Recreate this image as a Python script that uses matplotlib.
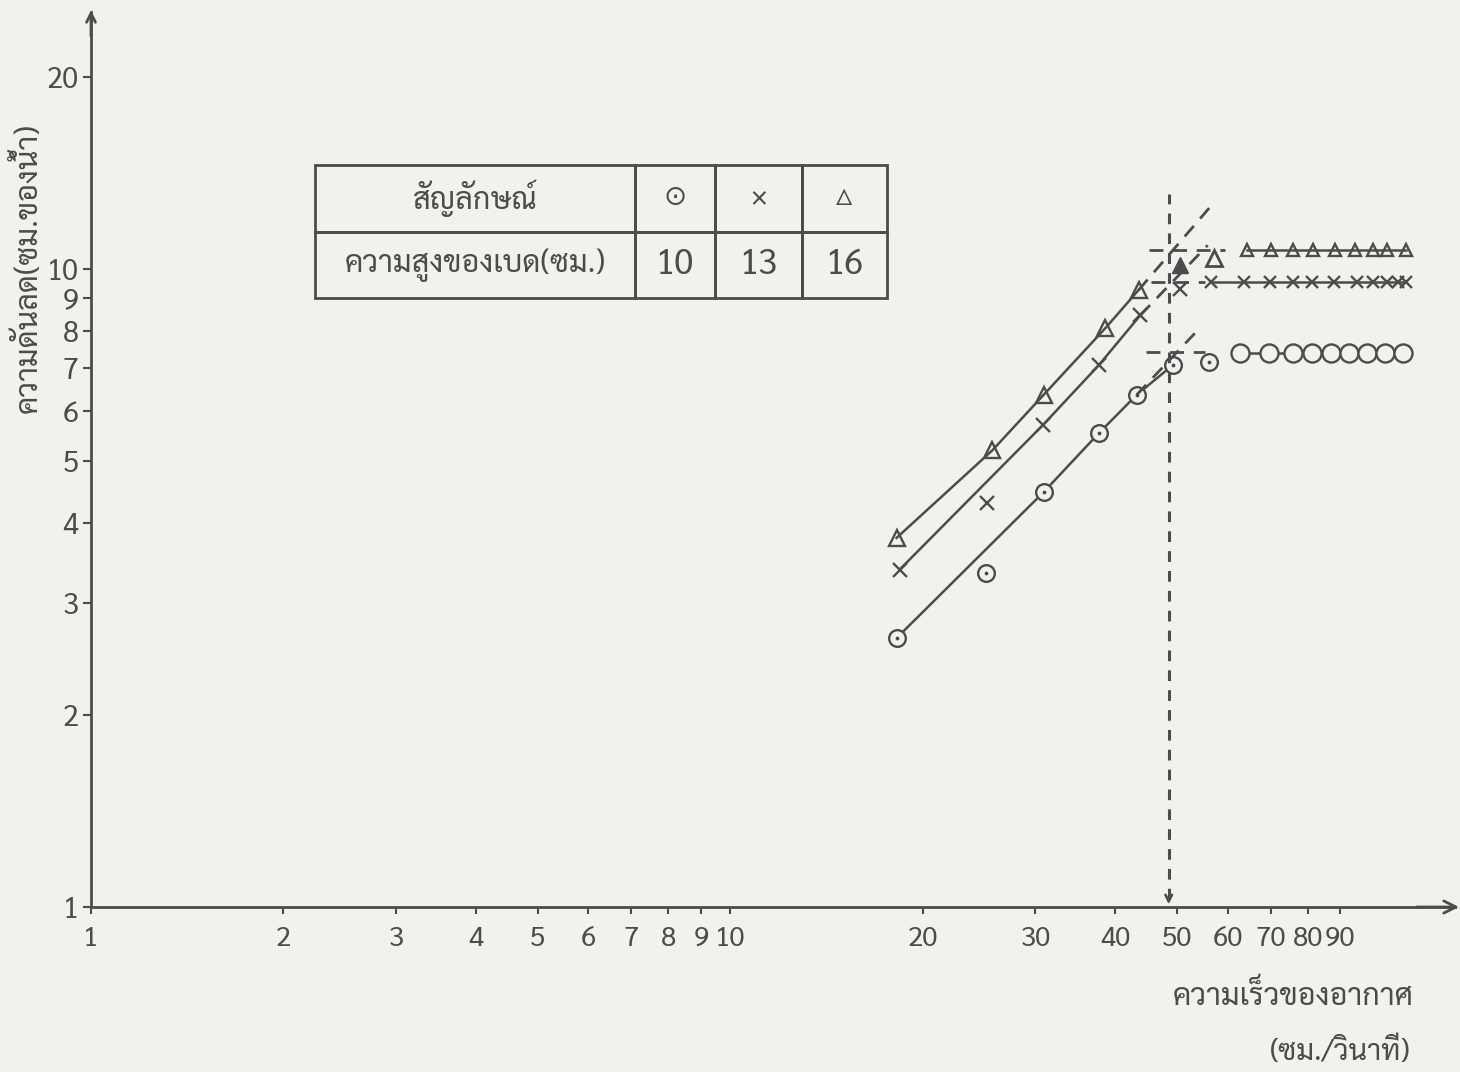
import matplotlib
matplotlib.use("Agg")
import matplotlib.pyplot as plt
from matplotlib import font_manager
from matplotlib.ft2font import FT2Font

# ---------------- data ----------------
x_ticks = [1, 2, 3, 4, 5, 6, 7, 8, 9, 10, 20, 30, 40, 50, 60, 70, 80, 90]
y_ticks = [1, 2, 3, 4, 5, 6, 7, 8, 9, 10, 20]

# bed height 16 cm (triangles)
v_tri = [18.2, 25.7, 30.9, 38.6, 43.5]
dp_tri = [3.79, 5.20, 6.35, 8.08, 9.27]
v_tri_mid = [50.6, 57.0]
dp_tri_mid = [10.15, 10.4]
v_tri_flat = [64.4, 70.0, 76.0, 81.5, 88.3, 94.7, 101.1, 106.5, 114.0]
dp_tri_flat = [10.7, 10.7, 10.7, 10.7, 10.7, 10.7, 10.7, 10.7, 10.7]

# bed height 13 cm (crosses)
v_x = [18.4, 30.8, 37.7, 43.8]
dp_x = [3.38, 5.69, 7.07, 8.47]
v_x_off = [25.2, 50.6]
dp_x_off = [4.30, 9.3]
v_x_flat = [56.4, 63.5, 69.8, 76.0, 81.2, 87.8, 95.4, 101.1, 106.3, 110.6, 114.2]
dp_x_flat = [9.54, 9.54, 9.54, 9.54, 9.54, 9.54, 9.54, 9.54, 9.54, 9.54, 9.54]

# bed height 10 cm (circles)
v_o = [18.2, 30.9, 37.7, 43.2, 49.2]
dp_o = [2.64, 4.47, 5.53, 6.35, 7.07]
v_o_off = [25.1, 56.0]
dp_o_off = [3.34, 7.15]
v_o_flat = [62.6, 69.5, 75.8, 81.4, 86.9, 92.7, 98.9, 105.6, 112.6]
dp_o_flat = [7.38, 7.38, 7.38, 7.38, 7.38, 7.38, 7.38, 7.38, 7.38]

# construction lines
v_fluid = 48.5
ext_tri = ([43.5, 57.4], [9.27, 12.8])
ext_x = ([43.8, 55.8], [8.47, 10.9])
ext_o = ([43.2, 54.4], [6.35, 8.11])
h_tri = ([45.1, 59.5], [10.7, 10.7])
h_x = ([45.5, 55.3], [9.54, 9.54])
h_o = ([44.7, 55.3], [7.42, 7.42])

table_rows = [["สัญลักษณ์", "⊙", "×", "△"],
              ["ความสูงของเบด(ซม.)", "10", "13", "16"]]
y_label = "ความดันลด(ซม.ของน้ำ)"
x_label1 = "ความเร็วของอากาศ"
x_label2 = "(ซม./วินาที)"

# ---------------- font ----------------
pref = ["Sarabun", "Noto Sans Thai", "Noto Sans Thai Looped", "Athiti", "Bai Jamjuree", "Chakra Petch"]
thai = {}
for path in font_manager.findSystemFonts():
    try:
        ft = FT2Font(path)
        cm = ft.get_charmap()
        if 0x0E01 in cm and 0x0E4C in cm and ft.style_name in ("Regular", "Light"):
            thai.setdefault(ft.family_name, []).append((ft.style_name, path))
    except Exception:
        pass
chosen = None
for p in pref:
    if p in thai:
        chosen = p
        break
if chosen is None and thai:
    chosen = sorted(thai)[0]
if chosen:
    for style, path in thai[chosen]:
        try:
            font_manager.fontManager.addfont(path)
        except Exception:
            pass
fam = [chosen, "DejaVu Sans"] if chosen else ["DejaVu Sans"]
plt.rcParams["font.family"] = fam

ink = "#4c4c4c"
bg = "#f1f1ed"

fig = plt.figure(figsize=(14.6, 10.72), dpi=100, facecolor=bg)
ax = fig.add_axes([91 / 1460, 1 - 907 / 1072, 1364 / 1460, 895 / 1072])
ax.set_facecolor(bg)
ax.set_xscale("log")
ax.set_yscale("log")
ax.set_xlim(1, 136)
ax.set_ylim(1, 25.3)

for s in ["top", "right"]:
    ax.spines[s].set_visible(False)
for s in ["left", "bottom"]:
    ax.spines[s].set_color(ink)
    ax.spines[s].set_linewidth(2.0)

ax.xaxis.set_minor_locator(matplotlib.ticker.NullLocator())
ax.yaxis.set_minor_locator(matplotlib.ticker.NullLocator())
ax.set_xticks(x_ticks)
ax.set_xticklabels([str(t) for t in x_ticks])
ax.set_yticks(y_ticks)
ax.set_yticklabels([str(t) for t in y_ticks])
ax.tick_params(axis="x", direction="out", length=5, width=1.5, color=ink,
               labelsize=20, labelcolor=ink, pad=8)
ax.tick_params(axis="y", direction="out", length=6, width=1.5, color=ink,
               labelsize=21, labelcolor=ink, pad=3)

# axis arrows
ax.annotate("", xy=(1.005, 0), xytext=(0.97, 0), xycoords="axes fraction",
            arrowprops=dict(arrowstyle="->", color=ink, lw=2, mutation_scale=22))
ax.annotate("", xy=(0, 1.005), xytext=(0, 0.97), xycoords="axes fraction",
            arrowprops=dict(arrowstyle="->", color=ink, lw=2, mutation_scale=16))

lw = 1.8
ms = 12
# triangles
ax.plot(v_tri, dp_tri, "-", color=ink, lw=lw, marker="^", ms=ms, mfc="none", mec=ink, mew=1.7)
ax.plot(v_tri_mid[:1], dp_tri_mid[:1], "^", ms=ms, color=ink)
ax.plot(v_tri_mid[1:], dp_tri_mid[1:], "^", ms=ms, mfc="none", mec=ink, mew=2)
ax.plot(v_tri_flat, dp_tri_flat, "-", color=ink, lw=lw, marker="^", ms=9, mfc="none", mec=ink, mew=1.7)
# crosses
ax.plot(v_x, dp_x, "-", color=ink, lw=lw, marker="x", ms=10, mec=ink, mew=1.7)
ax.plot(v_x_off, dp_x_off, "x", ms=10, mec=ink, mew=1.7)
ax.plot(v_x_flat, dp_x_flat, "-", color=ink, lw=lw, marker="x", ms=8, mec=ink, mew=1.7)
# circles
ax.plot(v_o, dp_o, "-", color=ink, lw=lw, marker="o", ms=ms, mfc=bg, mec=ink, mew=1.7)
ax.plot(v_o_off, dp_o_off, "o", ms=ms, mfc="none", mec=ink, mew=1.7)
ax.plot(v_o_flat, dp_o_flat, "-", color=ink, lw=lw, marker="o", ms=13, mfc=bg, mec=ink, mew=1.7)
for vv, dd in [(v_o, dp_o), (v_o_off, dp_o_off)]:
    ax.plot(vv, dd, ".", ms=3.5, color=ink)

# construction (dashed) lines
dash = (0, (5, 3.5))
for xs, ys in [ext_tri, ext_x, ext_o, h_tri, h_x, h_o]:
    ax.plot(xs, ys, color=ink, lw=2, linestyle=dash)
ax.plot([v_fluid, v_fluid], [1.03, 13.1], color=ink, lw=2.2, linestyle=(0, (3.5, 3)))
ax.annotate("", xy=(v_fluid, 1.0), xytext=(v_fluid, 1.05),
            arrowprops=dict(arrowstyle="->", color=ink, lw=1.8, mutation_scale=12))

# table (legend)
tab = ax.table(cellText=table_rows, cellLoc="center",
               colWidths=[0.559, 0.140, 0.152, 0.149],
               bbox=[0.1642, 0.680, 0.4194, 0.149])
tab.auto_set_font_size(False)
for (r, c), cell in tab.get_celld().items():
    cell.set_facecolor("none")
    cell.set_edgecolor(ink)
    cell.set_linewidth(2)
    t = cell.get_text()
    t.set_color(ink)
    t.set_fontfamily(fam)
    t.set_fontsize(22 if c == 0 else 25)
    if r == 0 and c > 0:
        t.set_fontsize(20)

fig.text(28 / 1460, 1 - 268 / 1072, y_label, rotation=90, ha="center", va="center",
         fontsize=22, color=ink)
fig.text(1293 / 1460, 1 - 997 / 1072, x_label1, ha="center", va="center",
         fontsize=22, color=ink)
fig.text(1340 / 1460, 1 - 1052 / 1072, x_label2, ha="center", va="center",
         fontsize=21, color=ink)

fig.savefig("out.png", dpi=100, facecolor=bg)
